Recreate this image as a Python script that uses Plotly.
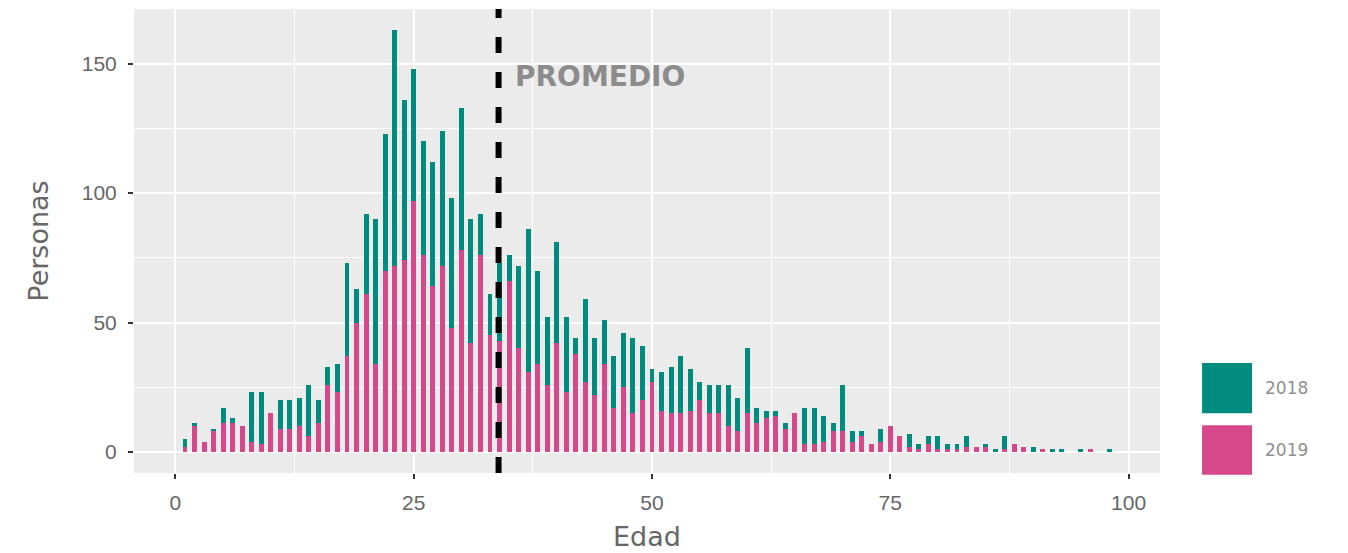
import plotly.graph_objects as go

# ---- data ----
edad = list(range(1, 99))
# stacked: 2019 at the bottom, 2018 on top
personas_2019 = [2, 10, 4, 8, 11, 11, 10, 4, 3, 15,
                 9, 9, 10, 6, 11, 26, 23, 37, 50, 61,
                 34, 70, 72, 74, 97, 76, 64, 72, 48, 78,
                 42, 76, 45, 43, 66, 40, 31, 34, 26, 42,
                 23, 38, 27, 22, 34, 17, 25, 15, 20, 27,
                 16, 15, 15, 16, 20, 15, 15, 10, 8, 15,
                 11, 13, 14, 9, 15, 3, 3, 4, 8, 8,
                 4, 6, 3, 4, 10, 6, 2, 1, 3, 1,
                 1, 1, 2, 2, 2, 0, 1, 3, 2, 0,
                 1, 0, 0, 0, 0, 1, 0, 0]
personas_2018 = [3, 1, 0, 1, 6, 2, 0, 19, 20, 0,
                 11, 11, 11, 20, 9, 7, 11, 36, 13, 31,
                 56, 53, 91, 62, 51, 44, 48, 52, 50, 55,
                 48, 16, 16, 30, 10, 32, 55, 36, 26, 39,
                 29, 6, 32, 22, 17, 20, 21, 29, 21, 5,
                 15, 18, 22, 16, 7, 11, 11, 16, 13, 25,
                 6, 3, 2, 2, 0, 14, 14, 10, 3, 18,
                 4, 2, 0, 5, 0, 0, 5, 2, 3, 5,
                 2, 2, 4, 0, 1, 1, 5, 0, 0, 2,
                 0, 1, 1, 0, 1, 0, 0, 1]
promedio = 33.9
series_names = ["2018", "2019"]
x_ticks = [0, 25, 50, 75, 100]
y_ticks = [0, 50, 100, 150]

TEAL = "#008b7f"
PINK = "#d5498a"
GREY_TXT = "#8c8c8c"
TICK_FONT = dict(size=21, color="#666666", family="Liberation Sans Narrow, Liberation Sans")
TITLE_FONT = dict(size=27, color="#666666", family="DejaVu Sans")

fig = go.Figure()
fig.add_trace(go.Bar(x=edad, y=personas_2019, name=series_names[1],
                     marker=dict(color=PINK, line=dict(width=0)), width=0.52))
fig.add_trace(go.Bar(x=edad, y=personas_2018, name=series_names[0],
                     marker=dict(color=TEAL, line=dict(width=0)), width=0.52))

fig.update_layout(
    barmode="stack",
    width=1348, height=553,
    margin=dict(l=126, r=196, t=1, b=88),
    paper_bgcolor="white",
    plot_bgcolor="#ebebeb",
    showlegend=False,
    font=dict(family="Liberation Sans", color="#4d4d4d"),
)

fig.update_xaxes(
    range=[-4.35, 103.3], tickvals=x_ticks, ticktext=[str(v) for v in x_ticks],
    showgrid=True, gridcolor="white", gridwidth=2,
    minor=dict(dtick=12.5, tick0=0, showgrid=True, gridcolor="white", gridwidth=1),
    zeroline=False, ticks="outside", ticklen=5, tickcolor="#333333", tickwidth=1.5,
    tickfont=TICK_FONT, ticklabelstandoff=6, automargin=False,
    title=dict(text="Edad", font=TITLE_FONT, standoff=13),
)
fig.update_yaxes(
    range=[-8.15, 171.15], tickvals=y_ticks, ticktext=[str(v) for v in y_ticks],
    showgrid=True, gridcolor="white", gridwidth=2,
    minor=dict(dtick=25, tick0=0, showgrid=True, gridcolor="white", gridwidth=1),
    zeroline=False, ticks="outside", ticklen=5, tickcolor="#333333", tickwidth=1.5,
    tickfont=TICK_FONT, ticklabelstandoff=7, automargin=False,
    title=dict(text="Personas", font=TITLE_FONT, standoff=25),
)

# average line
fig.add_shape(type="line", xref="x", yref="paper", x0=promedio, x1=promedio, y0=0, y1=1,
              line=dict(color="black", width=6, dash="16px,19px"))
fig.add_annotation(x=promedio + 1.5, y=145.0, xref="x", yref="y", text="<b>PROMEDIO</b>",
                   showarrow=False, xanchor="left", yanchor="middle",
                   font=dict(family="DejaVu Sans", size=28, color=GREY_TXT))

# legend drawn as keys + labels
legend_items = [(series_names[0], TEAL, 0.237, 0.129), (series_names[1], PINK, 0.103, -0.004)]
for name, col, ytop, ybot in legend_items:
    fig.add_shape(type="rect", xref="paper", yref="paper", x0=1.041, x1=1.0897,
                  y0=ybot, y1=ytop, fillcolor=col, line=dict(width=0))
    fig.add_annotation(xref="paper", yref="paper", x=1.1, y=(ytop + ybot) / 2,
                       text=name, showarrow=False, xanchor="left", yanchor="middle",
                       font=dict(family="DejaVu Sans", size=17, color="#909090"))

fig.write_html("out.html")
